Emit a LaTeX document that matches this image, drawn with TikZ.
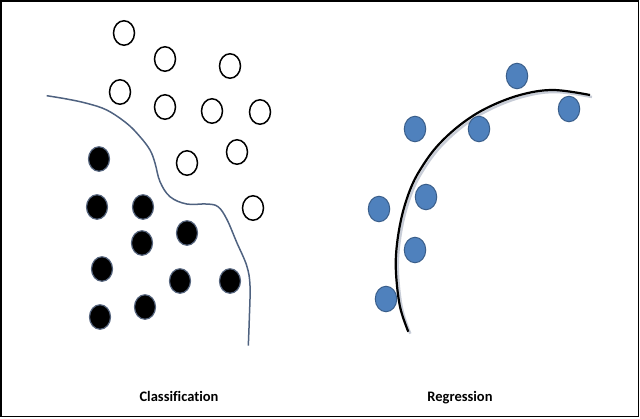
\documentclass[tikz,border=0pt]{standalone}
\usepackage{fontspec}
\setmainfont{Carlito}[Ligatures=NoCommon]
\usetikzlibrary{shapes.geometric}
\definecolor{bndry}{RGB}{79,98,128}
\definecolor{dotblue}{RGB}{79,129,189}
\definecolor{dotedge}{RGB}{58,94,138}
\definecolor{blackedge}{RGB}{85,100,125}
\definecolor{shadowgray}{RGB}{200,205,215}
\tikzset{
  opencirc/.style={ellipse, draw=black, fill=white, line width=1.5pt, minimum width=21pt, minimum height=24.5pt, inner sep=0pt},
  fullcirc/.style={ellipse, draw=blackedge, fill=black, line width=1.2pt, minimum width=21pt, minimum height=24.5pt, inner sep=0pt},
  bluedot/.style={ellipse, draw=dotedge, fill=dotblue, line width=1pt, minimum width=21.5pt, minimum height=25.5pt, inner sep=0pt},
  caption/.style={font=\fontsize{14.5}{17}\selectfont\bfseries, anchor=base, inner sep=0pt},
  boundary/.style={draw=bndry, line width=1.5pt},
  fitcurve/.style={draw=black, line width=2.2pt},
}
\begin{document}
\begin{tikzpicture}[x=1pt,y=-1pt]
\useasboundingbox (0,0) rectangle (640,418);
\draw[line width=1.5pt] (0.75,0.75) rectangle (638.5,416.3);

% classification boundary
\draw[boundary] plot[smooth, tension=0.6] coordinates {
 (46.7,95.7) (66.7,99) (86.7,103.3) (106.7,110) (126.7,123.3) (140,136.7)
 (150,150) (155,163) (160,181.7) (170,196.7) (186.7,204) (206.7,204)
 (218,206.7) (226.7,219) (236.7,242.3) (246.7,265.7) (250,285.7) (249.3,319) (248.3,345.7)};

% open circles
\node[opencirc] (o1) at (124,33) {};
\node[opencirc] (o2) at (165,59) {};
\node[opencirc] (o3) at (230,66) {};
\node[opencirc] (o4) at (120,92) {};
\node[opencirc] (o5) at (165,107) {};
\node[opencirc] (o6) at (212,111) {};
\node[opencirc] (o7) at (260,112) {};
\node[opencirc] (o8) at (187,163) {};
\node[opencirc] (o9) at (237,152) {};
\node[opencirc] (o10) at (253,208) {};

% filled circles
\node[fullcirc] (f1) at (99,159) {};
\node[fullcirc] (f2) at (97,207) {};
\node[fullcirc] (f3) at (143,207) {};
\node[fullcirc] (f4) at (187,233) {};
\node[fullcirc] (f5) at (142,243) {};
\node[fullcirc] (f6) at (102,269) {};
\node[fullcirc] (f7) at (180,281) {};
\node[fullcirc] (f8) at (230,281) {};
\node[fullcirc] (f9) at (145,307) {};
\node[fullcirc] (f10) at (100,317) {};

% regression curve shadow and curve
\draw[draw=shadowgray, line width=2.5pt, shift={(2,2)}] plot[smooth, tension=0.6] coordinates {
 (408.3,331.7) (400,306.7) (396,273) (396.7,246.7) (401.7,216.7) (410,190)
 (420,170) (436.7,146.7) (460,125) (486.7,108) (520,95) (553,90) (590,95)};
\draw[fitcurve] plot[smooth, tension=0.6] coordinates {
 (408.3,331.7) (400,306.7) (396,273) (396.7,246.7) (401.7,216.7) (410,190)
 (420,170) (436.7,146.7) (460,125) (486.7,108) (520,95) (553,90) (590,95)};

% blue dots
\node[bluedot] (b1) at (517,76) {};
\node[bluedot] (b2) at (569,109) {};
\node[bluedot] (b3) at (415,129) {};
\node[bluedot] (b4) at (479,129) {};
\node[bluedot] (b5) at (426,197) {};
\node[bluedot] (b6) at (379,209) {};
\node[bluedot] (b7) at (415,250) {};
\node[bluedot] (b8) at (386,299) {};

% captions
\node[caption] (cls) at (179,401) {Classification};
\node[caption] (reg) at (460,401) {Regression};
\end{tikzpicture}
\end{document}
